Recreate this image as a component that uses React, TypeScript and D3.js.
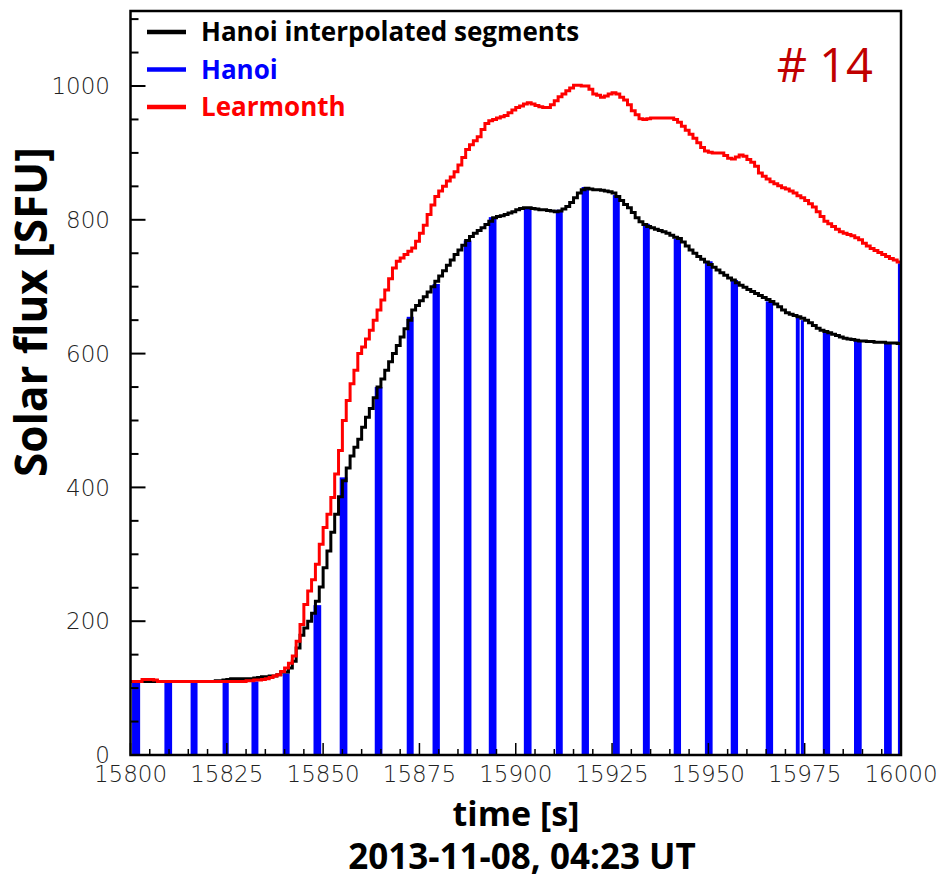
import React from 'react';
import * as d3 from 'd3';

const T_START = 15800;
const T_END = 16000;

// Learmonth flux, one value per second from 15800 s
const learmonth = [
  110, 110, 110, 113, 113, 113, 112, 110, 110, 110,
  110, 110, 110, 110, 110, 110, 110, 110, 110, 110,
  110, 110, 110, 110, 110, 110, 110, 110, 110, 110,
  111, 111, 112, 112, 113, 114, 116, 118, 120, 125,
  130, 137, 148, 170, 195, 225, 245, 262, 285, 315,
  340, 360, 385, 420, 455, 500, 530, 555, 575, 600,
  610, 622, 635, 650, 665, 680, 695, 712, 728, 738,
  743, 748, 753, 758, 768, 780, 792, 808, 822, 835,
  843, 850, 858, 864, 872, 882, 893, 905, 912, 918,
  924, 935, 944, 948, 950, 952, 954, 956, 960, 964,
  968, 970, 973, 975, 973, 971, 969, 968, 968, 972,
  978, 984, 988, 993, 997, 1001, 1001, 1000, 1000, 995,
  988, 986, 983, 985, 988, 990, 988, 983, 979, 972,
  963, 957, 951, 950, 951, 952, 952, 952, 952, 952,
  952, 950, 946, 940, 934, 928, 922, 915, 908, 903,
  901, 900, 900, 900, 896, 892, 891, 894, 897, 895,
  890, 886, 880, 870, 865, 861, 857, 854, 851, 848,
  846, 843, 840, 836, 833, 829, 824, 819, 812, 805,
  798, 794, 790, 786, 782, 780, 778, 776, 773, 770,
  765, 761, 757, 754, 751, 748, 745, 742, 740, 737,
];

// Hanoi interpolated segments, one value per second from 15800 s
const hanoiInterp = [
  110, 110, 110, 110, 110, 110, 110, 110, 110, 110,
  110, 110, 110, 110, 110, 110, 110, 110, 110, 110,
  110, 110, 111, 111, 112, 113, 114, 114, 114, 114,
  114, 114, 115, 116, 117, 117, 118, 118, 120, 124,
  124, 130, 140, 160, 179, 190, 200, 212, 230, 251,
  280, 305, 333, 360, 386, 410, 429, 447, 460, 472,
  490, 505, 518, 534, 550, 562, 575, 588, 600, 612,
  625, 637, 650, 665, 672, 679, 685, 692, 700, 708,
  716, 724, 732, 740, 748, 755, 762, 769, 775, 780,
  784, 788, 793, 798, 803, 805, 806, 808, 810, 812,
  815, 817, 818, 818, 817, 816, 815, 815, 814, 813,
  812, 813, 816, 820, 826, 833, 840, 845, 847, 846,
  845, 845, 844, 843, 842, 840, 835, 829, 823, 818,
  811, 803, 797, 793, 790, 788, 786, 784, 782, 780,
  777, 774, 772, 767, 761, 755, 750, 745, 741, 737,
  733, 729, 725, 721, 717, 713, 710, 706, 702, 699,
  696, 693, 690, 687, 684, 681, 678, 674, 670, 665,
  661, 659, 657, 655, 653, 650, 646, 642, 638, 635,
  633, 631, 629, 627, 625, 623, 622, 621, 620, 619,
  619, 618, 618, 617, 617, 617, 616, 616, 616, 615,
];

// Hanoi measured samples (bins: start time, end time, flux)
const hanoiStart = [
  15800.4, 15808.8, 15815.6, 15823.9, 15831.4, 15839.5, 15847.5, 15854.3,
  15863.4, 15871.7, 15878.4, 15886.5, 15893.0, 15902.1, 15910.4, 15917.1,
  15925.2, 15933.0, 15941.0, 15949.1, 15955.8, 15964.9, 15972.7, 15974.0,
  15979.7, 15987.8, 15995.6, 15999.2,
];
const hanoiEnd = [
  15802.5, 15810.8, 15817.4, 15825.5, 15833.2, 15841.3, 15849.5, 15856.3,
  15865.4, 15873.5, 15880.3, 15888.5, 15895.0, 15904.1, 15912.2, 15919.0,
  15927.0, 15934.8, 15942.9, 15951.1, 15957.7, 15966.8, 15973.7, 15974.8,
  15981.6, 15989.8, 15997.6, 16001.0,
];
const hanoiFlux = [
  110, 110, 110, 110, 110, 122, 224, 415,
  550, 655, 704, 769, 804, 817, 815, 849,
  837, 794, 772, 738, 710, 678, 655, 650,
  633, 620, 616, 735,
];

const xTickLabels = [15800, 15825, 15850, 15875, 15900, 15925, 15950, 15975, 16000];
const yTickLabels = [0, 200, 400, 600, 800, 1000];
const legendNames = ['Hanoi interpolated segments', 'Hanoi', 'Learmonth'];
const legendColors = ['#000000', '#0000ff', '#ff0000'];

export default function App() {
  const W = 941;
  const H = 881;
  const left = 130.5, right = 901, top = 11, bottom = 755;

  const x = d3.scaleLinear().domain([T_START, T_END]).range([left, right]);
  const y = d3.scaleLinear().domain([0, 1000]).range([bottom, 86]);

  const toPoints = (vals: number[]) => {
    const pts: [number, number][] = vals.map((v, i) => [T_START + i, v]);
    pts.push([T_END, vals[vals.length - 1]]);
    return pts;
  };
  const line = d3
    .line<[number, number]>()
    .x((d) => x(d[0]))
    .y((d) => y(d[1]))
    .curve(d3.curveStepAfter);

  const xMinor = d3.range(T_START, T_END + 1, 5);
  const yMinor = d3.range(0, 1101, 50);

  const tickFont = "'DejaVu Sans', sans-serif";
  const titleFont = "'Open Sans', sans-serif";

  return (
    <svg
      width={W}
      height={H}
      style={{ position: 'absolute', left: 0, top: 0, background: '#fff' }}
    >
      <defs>
        <clipPath id="plot">
          <rect x={left} y={top} width={right - left} height={bottom - top} />
        </clipPath>
      </defs>
      <rect x={0} y={0} width={W} height={H} fill="#fff" />

      <g clipPath="url(#plot)">
        {hanoiFlux.map((v, i) => (
          <rect
            key={i}
            x={x(hanoiStart[i])}
            width={x(hanoiEnd[i]) - x(hanoiStart[i])}
            y={y(v)}
            height={y(0) - y(v)}
            fill="#0000ff"
          />
        ))}
        <path d={line(toPoints(hanoiInterp)) || ''} fill="none" stroke="#000" strokeWidth={3} />
        <path d={line(toPoints(learmonth)) || ''} fill="none" stroke="#ff0000" strokeWidth={3} />
      </g>

      {/* x ticks */}
      {xMinor.map((t) => {
        const major = (t - T_START) % 25 === 0;
        return (
          <line
            key={'xt' + t}
            x1={x(t)}
            x2={x(t)}
            y1={bottom}
            y2={bottom - (major ? 12 : 6)}
            stroke="#000"
            strokeWidth={1.5}
          />
        );
      })}
      {/* y ticks */}
      {yMinor.map((v) => {
        const major = v % 200 === 0;
        return (
          <line
            key={'yt' + v}
            x1={left}
            x2={left + (major ? 15 : 8)}
            y1={y(v)}
            y2={y(v)}
            stroke="#000"
            strokeWidth={2}
          />
        );
      })}

      {/* frame */}
      <rect x={left} y={top} width={right - left} height={bottom - top} fill="none" stroke="#000" strokeWidth={2.5} />

      {/* tick labels */}
      {xTickLabels.map((t) => (
        <text
          key={'xl' + t}
          x={x(t)}
          y={782}
          textAnchor="middle"
          fontFamily={tickFont}
          fontSize={23}
          fontWeight={200}
          fill="#222"
        >
          {t}
        </text>
      ))}
      {yTickLabels.map((v) => (
        <text
          key={'yl' + v}
          x={110}
          y={y(v)}
          dy="0.36em"
          textAnchor="end"
          fontFamily={tickFont}
          fontSize={23}
          fontWeight={200}
          fill="#222"
        >
          {v}
        </text>
      ))}

      {/* legend */}
      {legendNames.map((name, i) => {
        const cy = 32 + i * 37.5;
        return (
          <g key={name}>
            <line x1={147} x2={186} y1={cy} y2={cy} stroke={legendColors[i]} strokeWidth={4.5} />
            <text
              x={201}
              y={cy}
              dy="0.35em"
              fontFamily={titleFont}
              fontWeight={700}
              fontSize={26}
              fill={legendColors[i]}
            >
              {name}
            </text>
          </g>
        );
      })}

      <text x={873} y={82} textAnchor="end" fontFamily={titleFont} fontSize={47} fill="#c00000">
        # 14
      </text>

      {/* axis titles */}
      <text
        transform="translate(47,312) rotate(-90)"
        textAnchor="middle"
        fontFamily={titleFont}
        fontWeight={700}
        fontSize={44}
        fill="#000"
      >
        Solar flux [SFU]
      </text>
      <text x={516} y={826} textAnchor="middle" fontFamily={titleFont} fontWeight={700} fontSize={34} fill="#000">
        time [s]
      </text>
      <text x={522} y={869} textAnchor="middle" fontFamily={titleFont} fontWeight={700} fontSize={35} fill="#000">
        2013-11-08, 04:23 UT
      </text>
    </svg>
  );
}
